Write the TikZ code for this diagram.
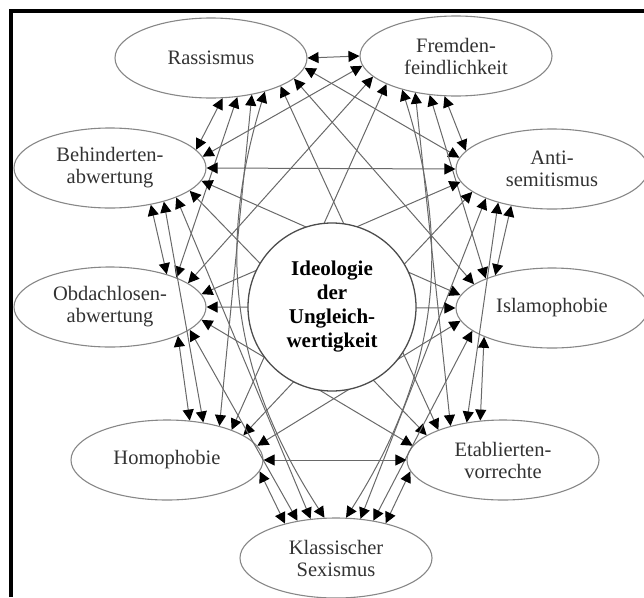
\documentclass[tikz,border=0pt]{standalone}
\usepackage{fontspec}
\setmainfont{Liberation Serif}
\usetikzlibrary{shapes.geometric,arrows.meta}
\definecolor{randgrau}{RGB}{135,135,135}
\definecolor{liniengrau}{RGB}{105,105,105}
\definecolor{schriftgrau}{RGB}{50,50,50}
\begin{document}
\begin{tikzpicture}[x=1pt,y=1pt,
    syndrom/.style={ellipse, draw=randgrau, line width=1.1pt, minimum width=192pt, minimum height=80pt, inner sep=0pt, align=center, text=schriftgrau, font=\fontsize{20.5}{22}\selectfont},
    kern/.style={circle, draw=black!70, line width=1.3pt, fill=white, minimum size=168pt, inner sep=0pt, align=center, font=\fontsize{21}{24}\selectfont\bfseries},
    spitze/.tip={Triangle[length=11pt,width=11pt,color=black]},
    bez/.style={draw=liniengrau, line width=1pt, spitze-spitze}]
            \useasboundingbox (0,0) rectangle (644,-597);
            \node [syndrom] (rass) at (211,-58) {Rassismus};
            \node [syndrom] (fremd) at (456,-56) {Fremden-\\feindlichkeit};
            \node [syndrom] (behind) at (110,-168) {Behinderten-\\abwertung};
            \node [syndrom] (anti) at (552,-169) {Anti-\\semitismus};
            \node [syndrom] (obdach) at (110,-307) {Obdachlosen-\\abwertung};
            \node [syndrom] (islam) at (552,-308) {Islamophobie};
            \node [syndrom] (homo) at (167,-460) {Homophobie};
            \node [syndrom] (etab) at (503,-460) {Etablierten-\\vorrechte};
            \node [syndrom] (sex) at (336,-558) {Klassischer\\Sexismus};
            \draw [bez] (rass.0) -- (fremd.180);
            \draw [bez] (rass.-74) -- (behind.12);
            \draw [bez] (rass.-6) -- (anti.173);
            \draw [bez] (rass.-56) -- (obdach.24);
            \draw [bez] (rass.-14) -- (islam.163);
            \draw [bez] (rass.-42) -- (homo.33);
            \draw [bez] (rass.-22) -- (etab.155);
            \draw [bez] (rass.-32) to[bend right=25] (sex.106);
            \draw [bez] (fremd.-174) -- (behind.7);
            \draw [bez] (fremd.-106) -- (anti.168);
            \draw [bez] (fremd.-166) -- (obdach.17);
            \draw [bez] (fremd.-124) -- (islam.156);
            \draw [bez] (fremd.-158) -- (homo.25);
            \draw [bez] (fremd.-138) -- (etab.147);
            \draw [bez] (fremd.-148) to[bend left=25] (sex.76);
            \draw [bez] (behind.0) -- (anti.180);
            \draw [bez] (behind.-42) -- (obdach.30);
            \draw [bez] (behind.-8) -- (islam.172);
            \draw [bez] (behind.-32) -- (homo.46);
            \draw [bez] (behind.-16) -- (etab.162);
            \draw [bez] (behind.-24) -- (sex.123);
            \draw [bez] (anti.-172) -- (obdach.8);
            \draw [bez] (anti.-138) -- (islam.150);
            \draw [bez] (anti.-164) -- (homo.18);
            \draw [bez] (anti.-148) -- (etab.134);
            \draw [bez] (anti.-156) -- (sex.58);
            \draw [bez] (obdach.0) -- (islam.180);
            \draw [bez] (obdach.-23) -- (homo.60);
            \draw [bez] (obdach.-8) -- (etab.171);
            \draw [bez] (obdach.-16) -- (sex.136);
            \draw [bez] (islam.-172) -- (homo.9);
            \draw [bez] (islam.-157) -- (etab.120);
            \draw [bez] (islam.-164) -- (sex.45);
            \draw [bez] (homo.0) -- (etab.180);
            \draw [bez] (homo.-7) -- (sex.146);
            \draw [bez] (etab.-173) -- (sex.35);
            \node [kern] (ideo) at (332,-307) {Ideologie\\der\\Ungleich-\\wertigkeit};
            \draw [line width=4pt] (11,-597) -- (11,-11) -- (644,-11);
        \end{tikzpicture}
\end{document}
